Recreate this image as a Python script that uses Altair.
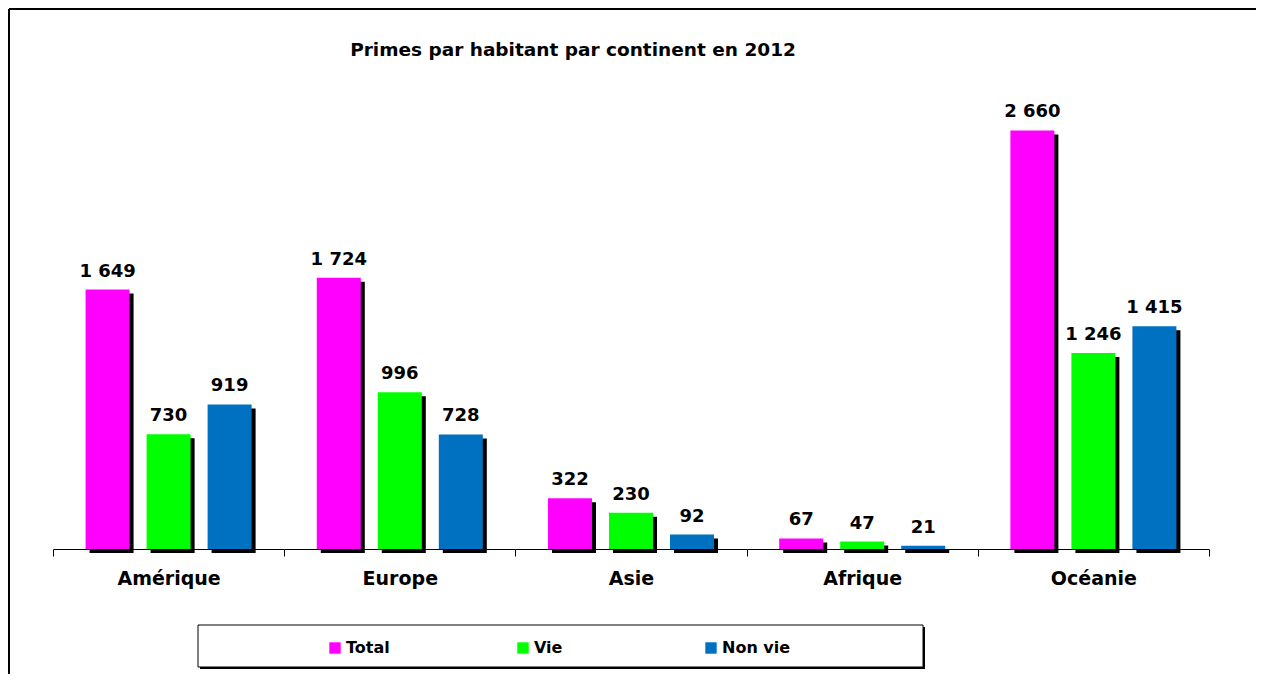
import altair as alt
import pandas as pd

continents = ["Amérique", "Europe", "Asie", "Afrique", "Océanie"]
series = ["Total", "Vie", "Non vie"]
total = [1649, 1724, 322, 67, 2660]
vie = [730, 996, 230, 47, 1246]
non_vie = [919, 728, 92, 21, 1415]
colors = ["#FF00FF", "#00FF00", "#0070C0"]
title_text = "Primes par habitant par continent en 2012"

rows = []
for i, c in enumerate(continents):
    for s, vals in zip(series, [total, vie, non_vie]):
        rows.append({"continent": c, "serie": s, "value": vals[i]})
df = pd.DataFrame(rows)

W, H = 1156, 472
FONT = "DejaVu Sans"


def xs(rng=None):
    kw = dict(type="band", domain=continents, paddingInner=0, paddingOuter=0)
    if rng is not None:
        kw["range"] = rng
    return alt.Scale(**kw)


def xos():
    return alt.Scale(type="band", domain=series, paddingInner=0.2787, paddingOuter=0.534)


def ys(rng=None):
    kw = dict(domain=[0, 3000])
    if rng is not None:
        kw["range"] = rng
    return alt.Scale(**kw)


base = alt.Chart(df)

shadow = base.mark_bar(color="black").encode(
    x=alt.X("continent:N", scale=xs([4, W + 4]), axis=None, sort=continents),
    xOffset=alt.XOffset("serie:N", scale=xos(), sort=series),
    y=alt.Y("value:Q", scale=ys([H + 4, 4]), axis=None),
)

bars = base.mark_bar().encode(
    x=alt.X(
        "continent:N",
        scale=xs(),
        sort=continents,
        title=None,
        axis=alt.Axis(
            tickBand="extent",
            tickSize=7,
            tickColor="black",
            domainColor="black",
            labelAngle=0,
            labelFont=FONT,
            labelFontSize=19,
            labelFontWeight="bold",
            labelColor="black",
            labelPadding=13,
            grid=False,
        ),
    ),
    xOffset=alt.XOffset("serie:N", scale=xos(), sort=series),
    y=alt.Y("value:Q", scale=ys(), axis=None),
    color=alt.Color(
        "serie:N",
        scale=alt.Scale(domain=series, range=colors),
        legend=alt.Legend(
            orient="none",
            legendX=274,
            legendY=563,
            direction="horizontal",
            title=None,
            symbolType="square",
            symbolSize=130,
            symbolStrokeWidth=0,
            labelFont=FONT,
            labelFontSize=16,
            labelFontWeight="bold",
            labelColor="black",
            labelOffset=3,
            columnPadding=100,
            gridAlign="all",
        ),
    ),
)

labels = base.transform_calculate(
    label="replace(format(datum.value, ','), ',', ' ')"
).mark_text(
    font=FONT, fontSize=18, fontWeight="bold", color="black", baseline="alphabetic", dy=-13
).encode(
    x=alt.X("continent:N", scale=xs(), axis=None, sort=continents),
    xOffset=alt.XOffset("serie:N", scale=xos(), sort=series),
    y=alt.Y("value:Q", scale=ys(), axis=None),
    text="label:N",
)

one = alt.Chart(pd.DataFrame({"a": [0]}))
border_top = one.mark_rule(color="black", strokeWidth=2).encode(
    x=alt.value(-44), x2=alt.value(1220), y=alt.value(-68)
)
border_left = one.mark_rule(color="black", strokeWidth=2).encode(
    x=alt.value(-44), y=alt.value(-68), y2=alt.value(640)
)
legend_shadow = one.mark_rect(color="black").encode(
    x=alt.value(147), x2=alt.value(872), y=alt.value(550), y2=alt.value(592)
)
legend_box = one.mark_rect(fill="white", stroke="black", strokeWidth=1).encode(
    x=alt.value(145), x2=alt.value(870), y=alt.value(548), y2=alt.value(590)
)
title = one.mark_text(
    font=FONT, fontSize=18.5, fontWeight="bold", color="black", align="center", baseline="alphabetic"
).encode(x=alt.value(520), y=alt.value(-21), text=alt.value(title_text))

chart = (
    alt.layer(border_top, border_left, legend_shadow, legend_box, title, shadow, bars, labels)
    .resolve_scale(x="independent", y="independent", xOffset="independent")
    .properties(
        width=W,
        height=H,
        autosize=alt.AutoSizeParams(type="none"),
        padding={"left": 45, "top": 69, "right": 47, "bottom": 125},
    )
    .configure(background="white")
    .configure_view(stroke=None, strokeWidth=0)
)

chart.save("out.html", embed_options={"renderer": "svg", "actions": False})
